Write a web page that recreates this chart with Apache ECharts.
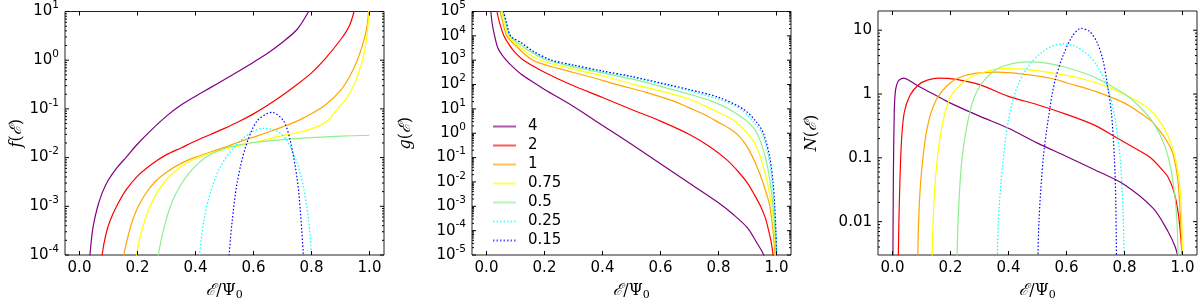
<!DOCTYPE html>
<html><head><meta charset="utf-8">
<script src="https://cdn.jsdelivr.net/npm/echarts@6/dist/echarts.min.js"></script>
<style>html,body{margin:0;padding:0;background:#fff}#c{width:1200px;height:306px}</style>
</head><body><div id="c"></div>
<script>
// ---------- data ----------
const seriesNames = ['4', '2', '1', '0.75', '0.5', '0.25', '0.15'];
const seriesColors = ['#800080', '#ff0000', '#ffa500', '#ffff00', '#90ee90', '#00ffff', '#0000ff'];
const seriesDotted = [false, false, false, false, false, true, true];

const xTicks = [0.0, 0.2, 0.4, 0.6, 0.8, 1.0];
const fTicks = [1e-4, 1e-3, 1e-2, 1e-1, 1e0, 1e1];
const gTicks = [1e-5, 1e-4, 1e-3, 1e-2, 1e-1, 1e0, 1e1, 1e2, 1e3, 1e4, 1e5];
const nTicks = [0.01, 0.1, 1, 10];
const nTickLabels = ['0.01', '0.1', '1', '10'];

// f(E) panel
const f_4 = [[0.033,5e-5],[0.036,1e-4],[0.045,3.2e-4],[0.055,6.5e-4],[0.065,1.1e-3],[0.08,2e-3],[0.1,3.5e-3],[0.13,6.3e-3],[0.16,0.01],[0.2,0.019],[0.25,0.038],[0.3,0.071],[0.35,0.12],[0.4,0.182],[0.45,0.27],[0.5,0.4],[0.55,0.6],[0.6,0.91],[0.65,1.41],[0.7,2.34],[0.75,4.27],[0.79,10],[0.81,18]];
const f_2 = [[0.075,5e-5],[0.078,1e-4],[0.09,2.5e-4],[0.105,5e-4],[0.128,1e-3],[0.16,2.14e-3],[0.2,4.17e-3],[0.25,7.4e-3],[0.3,0.0115],[0.35,0.0158],[0.4,0.0219],[0.45,0.0295],[0.5,0.0398],[0.55,0.055],[0.6,0.079],[0.65,0.12],[0.7,0.19],[0.75,0.316],[0.8,0.55],[0.843,1.0],[0.9,2.63],[0.93,5.0],[0.947,10],[0.96,20]];
const f_1 = [[0.15,5e-5],[0.153,1e-4],[0.17,2.8e-4],[0.185,5.6e-4],[0.203,1e-3],[0.23,1.9e-3],[0.26,3.16e-3],[0.3,5e-3],[0.35,7.6e-3],[0.4,0.0102],[0.45,0.0129],[0.5,0.0162],[0.55,0.0209],[0.6,0.0263],[0.65,0.0331],[0.7,0.0427],[0.75,0.0562],[0.8,0.0794],[0.85,0.123],[0.9,0.24],[0.93,0.447],[0.958,1.0],[0.98,2.5],[0.99,4.5],[0.997,10],[1.0,20]];
const f_075 = [[0.195,5e-5],[0.197,1e-4],[0.21,2.5e-4],[0.225,5e-4],[0.243,1e-3],[0.27,2e-3],[0.3,3.55e-3],[0.35,6.6e-3],[0.4,9.5e-3],[0.45,0.0123],[0.5,0.0148],[0.55,0.0174],[0.6,0.0204],[0.65,0.024],[0.7,0.0282],[0.75,0.0324],[0.8,0.0389],[0.85,0.0537],[0.89,0.1],[0.93,0.2],[0.96,0.5],[0.98,1.26],[0.99,2.8],[0.997,7.1],[1.0,12.6]];
const f_05 = [[0.27,5e-5],[0.272,1e-4],[0.285,2.5e-4],[0.3,5.6e-4],[0.32,1.26e-3],[0.35,2.8e-3],[0.38,5e-3],[0.41,7.6e-3],[0.44,0.0105],[0.47,0.0132],[0.5,0.0155],[0.55,0.0182],[0.6,0.0204],[0.7,0.0234],[0.8,0.0257],[0.9,0.0275],[1.0,0.0288]];
const f_025 = [[0.412,5e-5],[0.414,1e-4],[0.428,4.7e-4],[0.451,1.9e-3],[0.486,6.5e-3],[0.532,0.016],[0.589,0.032],[0.636,0.04],[0.682,0.035],[0.716,0.022],[0.751,7.6e-3],[0.774,2.2e-3],[0.791,4.7e-4],[0.8,1e-4],[0.802,5e-5]];
const f_015 = [[0.514,5e-5],[0.516,1e-4],[0.526,4.7e-4],[0.543,2.9e-3],[0.572,0.016],[0.612,0.056],[0.664,0.085],[0.704,0.056],[0.727,0.022],[0.751,3.5e-3],[0.762,7.4e-4],[0.772,1e-4],[0.774,5e-5]];

// g(E) panel
const g_4 = [[0.013,2e5],[0.015,1e5],[0.02,3e4],[0.028,1e4],[0.04,3e3],[0.06,1.3e3],[0.08,710],[0.12,263],[0.16,126],[0.2,63],[0.3,12.6],[0.4,2.1],[0.5,0.35],[0.6,0.056],[0.7,8.9e-3],[0.8,1.4e-3],[0.85,4.7e-4],[0.9,1.3e-4],[0.93,3.5e-5],[0.956,1e-5],[0.97,2e-6]];
const g_2 = [[0.033,2e5],[0.036,1e5],[0.045,3.5e4],[0.06,1e4],[0.08,4e3],[0.1,2e3],[0.128,1e3],[0.2,320],[0.29,100],[0.4,29.5],[0.5,9.5],[0.6,3.16],[0.7,0.89],[0.77,0.28],[0.83,0.079],[0.87,0.025],[0.9,8.9e-3],[0.925,2.8e-3],[0.945,1e-3],[0.962,3.2e-4],[0.973,1e-4],[0.982,3.2e-5],[0.988,1e-5],[0.992,2e-6]];
const g_1 = [[0.044,2e5],[0.047,1e5],[0.055,4e4],[0.07,1e4],[0.1,4e3],[0.16,1e3],[0.25,450],[0.35,220],[0.45,100],[0.55,48],[0.65,20],[0.7,11],[0.75,6],[0.8,2.8],[0.84,1.5],[0.865,0.9],[0.89,0.4],[0.91,0.16],[0.93,0.05],[0.945,0.018],[0.955,8e-3],[0.968,2.6e-3],[0.977,1e-3],[0.988,1e-4],[0.995,1e-5],[0.998,2e-6]];
const g_075 = [[0.05,2e5],[0.053,1e5],[0.06,4e4],[0.075,1e4],[0.1,5e3],[0.14,2e3],[0.185,1e3],[0.3,430],[0.4,230],[0.51,100],[0.6,55],[0.7,25],[0.775,10],[0.85,3.5],[0.9,1],[0.93,0.3],[0.945,0.1],[0.968,0.01],[0.983,1e-3],[0.992,1e-4],[0.997,1e-5],[0.999,2e-6]];
const g_05 = [[0.053,2e5],[0.056,1e5],[0.065,4e4],[0.08,1e4],[0.11,5e3],[0.15,2.3e3],[0.21,1e3],[0.3,530],[0.4,300],[0.5,170],[0.577,100],[0.7,40],[0.78,20],[0.835,10],[0.9,3],[0.933,1],[0.962,0.1],[0.978,0.01],[0.988,1e-3],[0.995,1e-4],[0.999,1e-5],[1.0,2e-6]];
const g_025 = [[0.055,2e5],[0.058,1e5],[0.067,4e4],[0.082,1e4],[0.12,5e3],[0.16,2.3e3],[0.22,1e3],[0.3,600],[0.4,340],[0.5,200],[0.61,100],[0.7,55],[0.8,25],[0.875,10],[0.92,3],[0.95,1],[0.973,0.1],[0.985,0.01],[0.992,1e-3],[0.997,1e-4],[1.0,1e-5],[1.0,2e-6]];
const g_015 = [[0.056,2e5],[0.059,1e5],[0.068,4e4],[0.083,1e4],[0.12,5.2e3],[0.16,2.4e3],[0.22,1.05e3],[0.3,630],[0.4,360],[0.5,215],[0.625,100],[0.7,62],[0.8,30],[0.885,10],[0.93,3],[0.955,1],[0.977,0.1],[0.988,0.01],[0.994,1e-3],[0.998,1e-4],[1.0,1e-5],[1.0,2e-6]];

// N(E) panel
const N_4 = [[0.001,1e-3],[0.003,0.05],[0.006,0.5],[0.01,1.1],[0.02,1.6],[0.039,1.78],[0.06,1.6],[0.1,1.25],[0.15,0.95],[0.2,0.72],[0.3,0.45],[0.4,0.29],[0.5,0.17],[0.6,0.105],[0.7,0.064],[0.8,0.038],[0.9,0.016],[0.95,0.007],[0.975,0.004],[0.99,0.0022]];
const N_2 = [[0.019,1e-3],[0.022,0.01],[0.03,0.15],[0.04,0.5],[0.06,0.95],[0.09,1.4],[0.12,1.65],[0.16,1.78],[0.22,1.7],[0.3,1.4],[0.4,0.92],[0.5,0.68],[0.6,0.48],[0.7,0.32],[0.77,0.21],[0.85,0.13],[0.89,0.1],[0.93,0.065],[0.95,0.05],[0.97,0.03],[0.985,0.014],[0.995,0.005],[1.0,0.002]];
const N_1 = [[0.086,1e-3],[0.09,0.01],[0.1,0.06],[0.12,0.3],[0.15,0.8],[0.2,1.5],[0.25,1.95],[0.3,2.15],[0.36,2.2],[0.45,2.05],[0.55,1.75],[0.6,1.5],[0.7,1.1],[0.8,0.72],[0.85,0.52],[0.9,0.35],[0.96,0.14],[0.98,0.06],[0.99,0.02],[1.0,0.002]];
const N_075 = [[0.135,1e-3],[0.14,0.01],[0.15,0.06],[0.17,0.3],[0.2,0.9],[0.25,1.6],[0.3,2.1],[0.38,2.5],[0.45,2.45],[0.55,2.15],[0.65,1.75],[0.75,1.25],[0.85,0.75],[0.9,0.5],[0.95,0.22],[0.98,0.08],[0.995,0.02],[1.0,0.002]];
const N_05 = [[0.221,1e-3],[0.226,0.01],[0.24,0.1],[0.27,0.6],[0.3,1.3],[0.35,2.3],[0.4,2.9],[0.46,3.2],[0.52,3.1],[0.6,2.6],[0.7,1.8],[0.8,1.0],[0.85,0.65],[0.9,0.35],[0.94,0.15],[0.965,0.05],[0.98,0.012],[0.987,1e-3]];
const N_025 = [[0.36,1e-3],[0.365,0.01],[0.38,0.08],[0.4,0.4],[0.43,1.3],[0.47,2.8],[0.52,4.7],[0.56,5.8],[0.59,6.1],[0.63,5.6],[0.67,4.3],[0.7,3.0],[0.73,1.7],[0.75,0.95],[0.77,0.35],[0.785,0.1],[0.795,0.015],[0.8,1e-3]];
const N_015 = [[0.5,1e-3],[0.505,0.01],[0.52,0.1],[0.54,0.5],[0.56,1.6],[0.59,4.2],[0.62,8.0],[0.65,10.7],[0.68,9.5],[0.705,6.5],[0.725,3.5],[0.74,1.5],[0.755,0.5],[0.765,0.1],[0.77,0.02],[0.773,1e-3]];

const panelF = [f_4, f_2, f_1, f_075, f_05, f_025, f_015];
const panelG = [g_4, g_2, g_1, g_075, g_05, g_025, g_015];
const panelN = [N_4, N_2, N_1, N_075, N_05, N_025, N_015];

// ---------- layout / styling ----------
const FONT = 'DejaVu Sans';
const XMIN = -0.05, XMAX = 1.05;
const grids = [
  { left: 65, top: 11, width: 319, height: 249 },
  { left: 472, top: 11, width: 319, height: 249 },
  { left: 878, top: 11, width: 319, height: 249 }
];
const panels = [
  { data: panelF, ymin: 1e-4, ymax: 10, ticks: fTicks, pow: true, yname: 'f', ygap: 40 },
  { data: panelG, ymin: 1e-5, ymax: 1e5, ticks: gTicks, pow: true, yname: 'g', ygap: 58 },
  { data: panelN, ymin: 0.003, ymax: 20, ticks: nTicks, pow: false, yname: 'N', ygap: 58 }
];

function minorTicks(lo, hi) {
  const out = [];
  for (let e = -6; e <= 5; e++) {
    for (let m = 2; m <= 9; m++) {
      const v = m * Math.pow(10, e);
      if (v > lo * 1.0001 && v < hi * 0.9999) out.push(v);
    }
  }
  return out;
}

const supRich = {
  b: { fontSize: 15, fontFamily: FONT, color: '#000' },
  s: { fontSize: 10.5, fontFamily: FONT, color: '#000', padding: [0, 0, 12, 0] }
};
function powLabel(v) {
  const e = Math.round(Math.log10(v));
  return '{b|10}{s|' + e + '}';
}
function nLabel(v) {
  const i = nTicks.findIndex(t => Math.abs(Math.log10(t) - Math.log10(v)) < 1e-6);
  return i >= 0 ? nTickLabels[i] : '';
}
const nameRich = {
  c: { fontSize: 16, fontFamily: 'DejaVu Serif', fontStyle: 'italic', color: '#000' },
  n: { fontSize: 16, fontFamily: 'DejaVu Serif', color: '#000' },
  i: { fontSize: 16, fontFamily: 'DejaVu Serif', fontStyle: 'italic', color: '#000' },
  sub: { fontSize: 11, fontFamily: 'DejaVu Serif', color: '#000', padding: [9, 0, 0, 0] }
};

function tickRender(params, api) {
  const pt = api.coord([api.value(0), api.value(1)]);
  const side = api.value(2), len = api.value(3);
  let x2 = pt[0], y2 = pt[1];
  if (side === 0) y2 -= len; else if (side === 1) y2 += len; else if (side === 2) x2 += len; else x2 -= len;
  return { type: 'line', shape: { x1: pt[0], y1: pt[1], x2: x2, y2: y2 }, style: { stroke: '#000', lineWidth: 1 } };
}

const xAxes = [], yAxes = [], series = [];
panels.forEach((p, k) => {
  xAxes.push({
    type: 'value', gridIndex: k, min: XMIN, max: XMAX, splitLine: { show: false },
    axisLine: { show: false }, axisTick: { show: false },
    axisLabel: { customValues: xTicks, formatter: v => v.toFixed(1), fontSize: 15, fontFamily: FONT, color: '#000', margin: 6 },
    name: '{c|ℰ}{n|/Ψ}{sub|0}', nameLocation: 'middle', nameGap: 26,
    nameTextStyle: { rich: nameRich }
  });
  yAxes.push({
    type: 'log', logBase: 10, gridIndex: k, min: p.ymin, max: p.ymax, splitLine: { show: false },
    axisLine: { show: false }, axisTick: { show: false },
    axisLabel: {
      customValues: p.ticks,
      formatter: p.pow ? powLabel : nLabel,
      fontSize: 15, fontFamily: FONT, color: '#000', margin: 6, rich: supRich
    },
    name: '{i|' + p.yname + '}{n|(}{c|ℰ}{n|)}', nameLocation: 'middle', nameGap: p.ygap,
    nameTextStyle: { rich: nameRich }
  });
  p.data.forEach((d, i) => {
    series.push({
      type: 'line', name: seriesNames[i], xAxisIndex: k, yAxisIndex: k,
      data: d, showSymbol: false, symbol: 'none', smooth: 0.3, clip: true,
      lineStyle: { color: seriesColors[i], width: 1.2, type: seriesDotted[i] ? [1.5, 2] : 'solid' },
      itemStyle: { color: seriesColors[i] },
      emphasis: { disabled: true }, z: 2
    });
  });
  // tick marks, placed through the axes' own scales
  const tk = [];
  xTicks.forEach(t => { tk.push([t, p.ymin, 0, 4]); tk.push([t, p.ymax, 1, 4]); });
  p.ticks.forEach(t => { tk.push([XMIN, t, 2, 4]); tk.push([XMAX, t, 3, 4]); });
  minorTicks(p.ymin, p.ymax).forEach(t => { tk.push([XMIN, t, 2, 2]); tk.push([XMAX, t, 3, 2]); });
  series.push({
    type: 'custom', xAxisIndex: k, yAxisIndex: k, data: tk, clip: false, silent: true,
    renderItem: tickRender, z: 5, tooltip: { show: false }
  });
});

const chart = echarts.init(document.getElementById('c'), null, { renderer: 'canvas' });
chart.setOption({
  animation: false,
  backgroundColor: '#fff',
  grid: grids.map(g => Object.assign({ show: true, borderColor: '#222', borderWidth: 1, backgroundColor: 'transparent' }, g)),
  xAxis: xAxes,
  yAxis: yAxes,
  legend: {
    data: seriesNames, orient: 'vertical', left: 487, top: 114,
    itemWidth: 23, itemHeight: 14, itemGap: 4,
    textStyle: { fontSize: 15, fontFamily: FONT, color: '#000', padding: [0, 0, 0, 7] },
    itemStyle: { color: 'rgba(0,0,0,0)', borderColor: 'rgba(0,0,0,0)', borderWidth: 0, opacity: 0 },
    lineStyle: { width: 2, opacity: 0.65 }
  },
  series: series
});
</script></body></html>
